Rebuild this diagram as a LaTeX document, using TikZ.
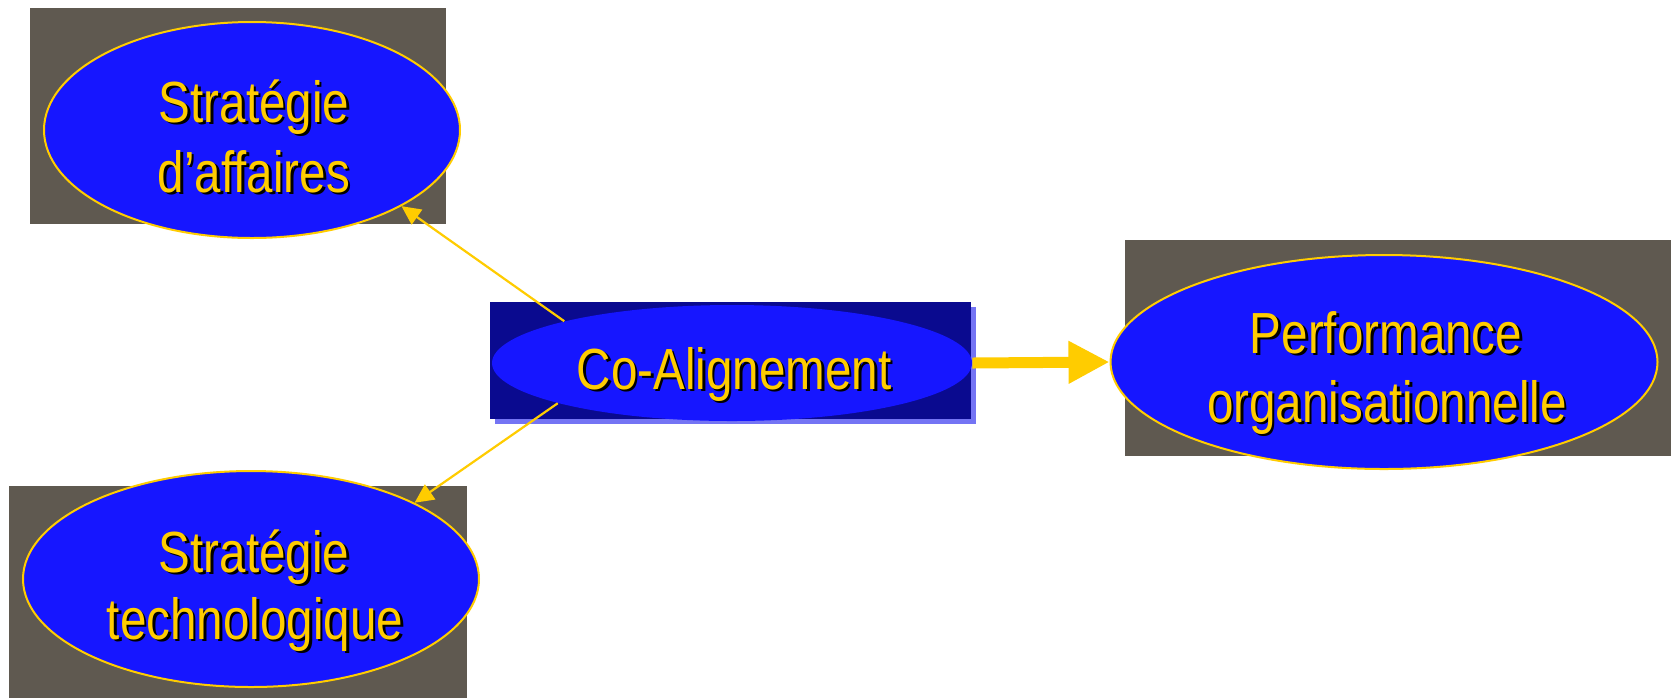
\documentclass[tikz,border=0pt]{standalone}
\usepackage{fontspec}
\setmainfont{Liberation Sans}[FakeStretch=0.82]
\usetikzlibrary{arrows.meta,shapes.geometric}

\definecolor{boxgrey}{HTML}{5F5950}
\definecolor{ovalblue}{HTML}{1616FF}
\definecolor{navy}{HTML}{0A0A8F}
\definecolor{lilac}{HTML}{7474F4}
\definecolor{gold}{HTML}{FFCC00}

\tikzset{
  backbox/.style={fill=boxgrey, draw=none},
  oval/.style={ellipse, fill=ovalblue, draw=gold, line width=1pt, inner sep=0pt},
  goldtext/.style={text=gold, anchor=base, inner sep=0pt, font=\fontsize{29}{35}\selectfont},
  shadowtext/.style={goldtext, text=black},
  thinarrow/.style={draw=gold, line width=1.1pt, -{Triangle[length=9.5pt,width=9pt]}},
  thickarrow/.style={draw=gold, line width=5.5pt, -{Triangle[length=20.5pt,width=20pt]}},
}

% one line of gold lettering with a black drop shadow; #2 is "x,y"
\newcommand\goldline[3]{%
  \node[shadowtext] at ([shift={(2.5,2.5)}]#2) {#3};
  \node[goldtext] (#1) at (#2) {#3};}

\begin{document}
\begin{tikzpicture}[x=0.5pt,y=-0.5pt]
\useasboundingbox (0,0) rectangle (1680,698);
\fill[white] (0,0) rectangle (1680,698);

% Strategie d'affaires
\fill[backbox] (30,8) rectangle (446,224);
\node[oval, minimum width=208pt, minimum height=108pt] (sa) at (252,130) {};
\goldline{sa1}{254,122}{Stratégie}
\goldline{sa2}{254,192}{d’affaires}

% Strategie technologique
\fill[backbox] (9,486) rectangle (467,698);
\node[oval, minimum width=228pt, minimum height=108pt] (st) at (251,579) {};
\goldline{st1}{254,572}{Stratégie}
\goldline{st2}{255,639}{technologique}

% Performance organisationnelle
\fill[backbox] (1125,240) rectangle (1671,456);
\node[oval, minimum width=273.5pt, minimum height=107pt] (po) at (1384,362) {};
\goldline{po1}{1386,353}{Performance}
\goldline{po2}{1387,422}{organisationnelle}

% Co-Alignement
\fill[lilac] (495,307) rectangle (976,424);
\fill[navy] (490,302) rectangle (971,419);
\node[ellipse, fill=ovalblue, draw=none, inner sep=0pt,
      minimum width=240pt, minimum height=58pt] (co) at (732,363) {};
\goldline{co1}{734,389}{Co-Alignement}

% connectors
\draw[thinarrow] (co.166.4) -- (sa.-27.8);
\draw[thinarrow] (co.193.3) -- (st.25.2);
\draw[thickarrow] (co.east) -- (po.west);
\end{tikzpicture}
\end{document}
